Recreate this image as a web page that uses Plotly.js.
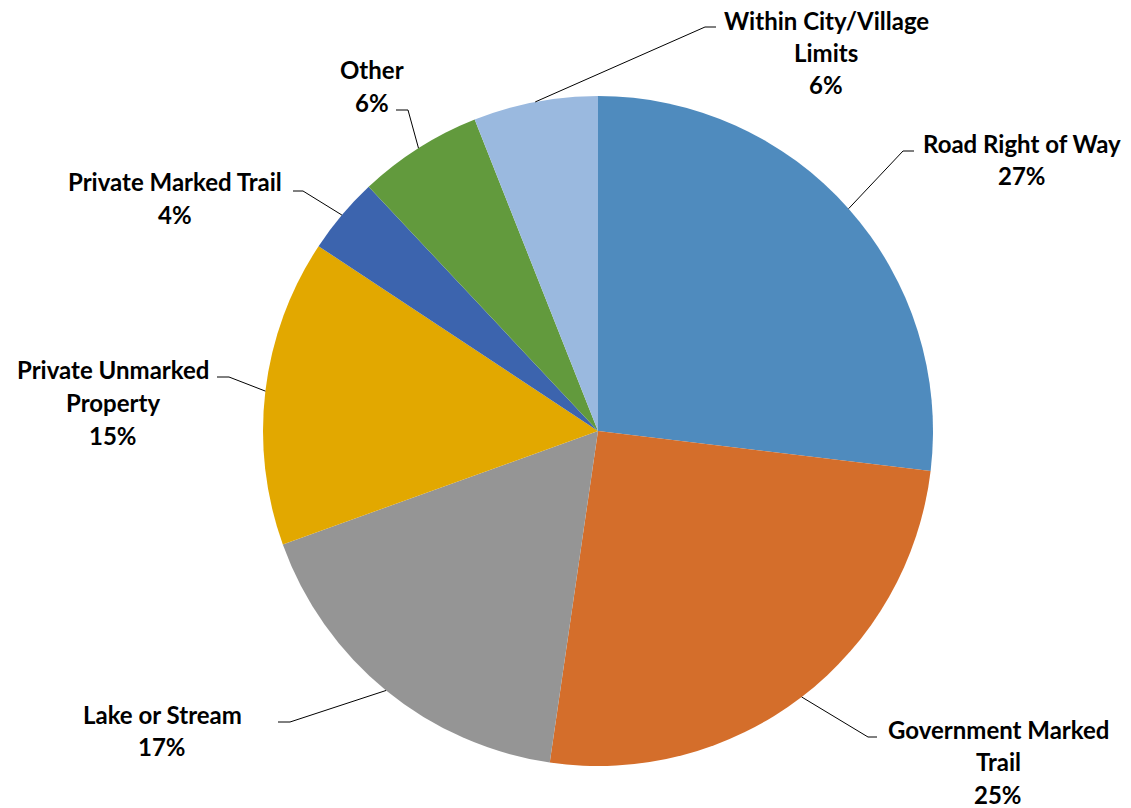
<!DOCTYPE html>
<html>
<head>
<meta charset="utf-8">
<script src="https://cdn.plot.ly/plotly-3.0.1.min.js"></script>
<style>html,body{margin:0;padding:0;background:#fff;}#chart{width:1131px;height:808px;}</style>
</head>
<body>
<div id="chart"></div>
<script>
// ---- data ----
const categories = ["Road Right of Way", "Government Marked Trail", "Lake or Stream",
  "Private Unmarked Property", "Private Marked Trail", "Other", "Within City/Village Limits"];
const values = [26.9, 25.4, 17.2, 14.8, 3.7, 6.0, 6.0];
const displayNames = [["Road Right of Way"], ["Government Marked", "Trail"], ["Lake or Stream"],
  ["Private Unmarked", "Property"], ["Private Marked Trail"], ["Other"], ["Within City/Village", "Limits"]];
const colors = ["#4F8BBE", "#D46E2B", "#959595", "#E2A800", "#3C64AE", "#629A3D", "#9AB9DF"];

// ---- layout (pixels) ----
const W = 1131, H = 808;
const CX = 598, CY = 431, R = 335;
const labelLayout = [
  {ex: 903, ey: 151, hx: 914, tx: 1022, ty: 143},
  {ex: 868, ey: 737, hx: 877, tx: 998, ty: 729},
  {ex: 290, ey: 722, hx: 278, tx: 162, ty: 714},
  {ex: 229, ey: 377, hx: 217, tx: 113, ty: 370},
  {ex: 303, ey: 191, hx: 293, tx: 175, ty: 182},
  {ex: 408, ey: 110, hx: 396, tx: 372, ty: 70},
  {ex: 705, ey: 27,  hx: 716, tx: 826, ty: 20}
];
const LINE_STEP = 32.5;
const px = x => x / W, py = y => 1 - y / H;

const total = values.reduce((a, b) => a + b, 0);
const shapes = [], annotations = [];
let cum = 0;
values.forEach((v, i) => {
  const mid = (cum + v / 2) / total * 2 * Math.PI;
  cum += v;
  const sx = CX + R * Math.sin(mid), sy = CY - R * Math.cos(mid);
  const L = labelLayout[i];
  shapes.push({type: 'path', xref: 'paper', yref: 'paper',
    path: `M ${px(sx)},${py(sy)} L ${px(L.ex)},${py(L.ey)} L ${px(L.hx)},${py(L.ey)}`,
    line: {color: '#000', width: 1}});
  const lines = displayNames[i].concat([Math.round(v / total * 100) + '%']);
  lines.forEach((t, k) => {
    annotations.push({xref: 'paper', yref: 'paper', x: px(L.tx), y: py(L.ty + k * LINE_STEP),
      xanchor: 'center', yanchor: 'middle', showarrow: false, text: '<b>' + t + '</b>',
      font: {family: 'Lato, Carlito, Calibri, sans-serif', size: 24, color: '#000'}});
  });
});

const trace = {
  type: 'pie', labels: categories, values: values, sort: false, direction: 'clockwise',
  rotation: 0, marker: {colors: colors, line: {width: 0}}, textinfo: 'none',
  textposition: 'none', hoverinfo: 'skip', showlegend: false,
  domain: {x: [px(CX - R), px(CX + R)], y: [py(CY + R), py(CY - R)]}
};

Plotly.newPlot('chart', [trace], {
  width: W, height: H, autosize: false, margin: {l: 0, r: 0, t: 0, b: 0},
  paper_bgcolor: '#fff', plot_bgcolor: '#fff', showlegend: false,
  shapes: shapes, annotations: annotations
}, {displayModeBar: false, staticPlot: true});
</script>
</body>
</html>
